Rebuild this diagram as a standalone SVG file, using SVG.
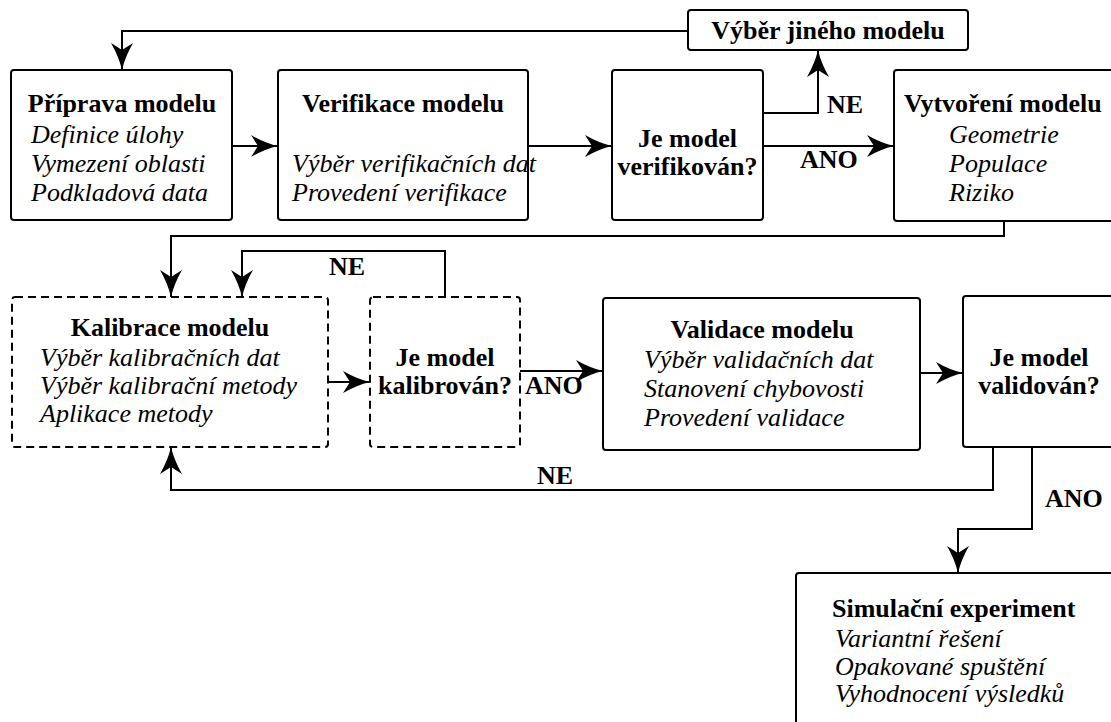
<svg xmlns="http://www.w3.org/2000/svg" width="1111" height="722" viewBox="0 0 1111 722">
<defs>
<marker id="ah" markerUnits="userSpaceOnUse" markerWidth="30" markerHeight="24" refX="27" refY="11" orient="auto">
<path d="M0,0 Q14,8 27,11 Q14,14 0,22 L7,11 Z" fill="#000"/>
</marker>
<style>
.box{fill:#fff;stroke:#000;stroke-width:2}
.dash{fill:#fff;stroke:#000;stroke-width:2;stroke-dasharray:8 5}
.ln{fill:none;stroke:#000;stroke-width:2}
.arr{fill:none;stroke:#000;stroke-width:2;marker-end:url(#ah)}
text{font-family:"Liberation Serif","Times New Roman",serif;font-size:26px;fill:#000}
.b{font-weight:bold}
.i{font-style:italic}
.m{text-anchor:middle}
</style>
</defs>
<rect width="1111" height="722" fill="#fff"/>
<g id="connectors">
<path class="arr" d="M688,31 H122 V70"/>
<path class="arr" d="M232,146 H278"/>
<path class="arr" d="M528,146 H612"/>
<path class="arr" d="M763,113 H818 V50"/>
<path class="arr" d="M763,146 H894"/>
<path class="arr" d="M1004,221 V236 H171 V297"/>
<path class="arr" d="M445,297 V251 H242 V297"/>
<path class="arr" d="M328,382 H370"/>
<path class="arr" d="M520,371 H603"/>
<path class="arr" d="M920,373 H963"/>
<path class="arr" d="M993,447 V490 H171 V447"/>
<path class="arr" d="M1032,447 V529 H958 V573"/>
<text class="b" x="827" y="113">NE</text>
<text class="b" x="800" y="168">ANO</text>
<text class="b" x="329" y="275">NE</text>
<text class="b" x="525" y="394">ANO</text>
<text class="b" x="537" y="484">NE</text>
<text class="b" x="1045" y="507">ANO</text>
</g>
<g id="vyber">
<rect class="box" x="688" y="10" width="280" height="40" rx="3"/>
<text class="b m" x="828" y="39">Výběr jiného modelu</text>
</g>
<g id="priprava">
<rect class="box" x="11" y="70" width="221" height="150" rx="3"/>
<text class="b m" x="122" y="112">Příprava modelu</text>
<text class="i" x="31" y="143">Definice úlohy</text>
<text class="i" x="31" y="172">Vymezení oblasti</text>
<text class="i" x="31" y="201">Podkladová data</text>
</g>
<g id="verifikace">
<rect class="box" x="278" y="70" width="250" height="150" rx="3"/>
<text class="b m" x="403" y="112">Verifikace modelu</text>
<text class="i" x="292" y="172">Výběr verifikačních dat</text>
<text class="i" x="292" y="201">Provedení verifikace</text>
</g>
<g id="je-verifikovan">
<rect class="box" x="612" y="70" width="151" height="150" rx="3"/>
<text class="b m" x="687.5" y="147">Je model</text>
<text class="b m" x="687.5" y="175">verifikován?</text>
</g>
<g id="vytvoreni">
<rect class="box" x="894" y="70" width="240" height="151" rx="3"/>
<text class="b" x="904" y="112">Vytvoření modelu</text>
<text class="i" x="949" y="143">Geometrie</text>
<text class="i" x="949" y="172">Populace</text>
<text class="i" x="949" y="201">Riziko</text>
</g>
<g id="kalibrace">
<rect class="dash" x="12" y="297" width="316" height="150" rx="3"/>
<text class="b m" x="170" y="336">Kalibrace modelu</text>
<text class="i" x="40" y="366">Výběr kalibračních dat</text>
<text class="i" x="40" y="394">Výběr kalibrační metody</text>
<text class="i" x="40" y="422">Aplikace metody</text>
</g>
<g id="je-kalibrovan">
<rect class="dash" x="370" y="297" width="150" height="150" rx="3"/>
<text class="b m" x="445" y="366">Je model</text>
<text class="b m" x="445" y="394">kalibrován?</text>
</g>
<g id="validace">
<rect class="box" x="603" y="298" width="317" height="152" rx="3"/>
<text class="b m" x="762" y="338">Validace modelu</text>
<text class="i" x="644" y="368">Výběr validačních dat</text>
<text class="i" x="644" y="397">Stanovení chybovosti</text>
<text class="i" x="644" y="426">Provedení validace</text>
</g>
<g id="je-validovan">
<rect class="box" x="963" y="296" width="160" height="151" rx="3"/>
<text class="b m" x="1039" y="366">Je model</text>
<text class="b m" x="1039" y="394">validován?</text>
</g>
<g id="simulace">
<rect class="box" x="796" y="573" width="330" height="170" rx="3"/>
<text class="b" x="832" y="617">Simulační experiment</text>
<text class="i" x="835" y="647">Variantní řešení</text>
<text class="i" x="835" y="675">Opakované spuštění</text>
<text class="i" x="835" y="702">Vyhodnocení výsledků</text>
</g>
</svg>
